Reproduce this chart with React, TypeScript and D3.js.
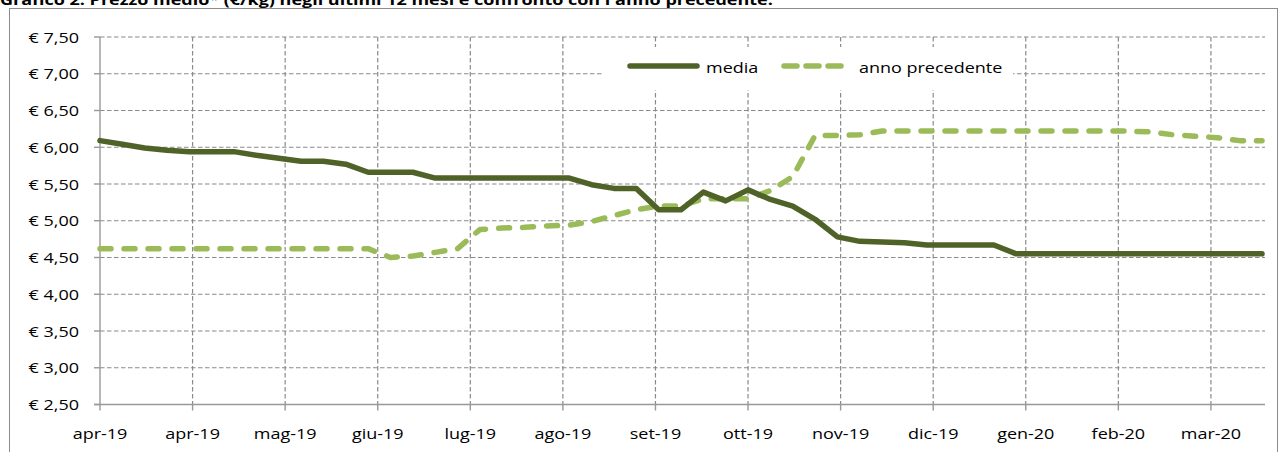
import React from "react";
import * as d3 from "d3";

// weekly prices, first week = 1 apr 2019
const startDate = new Date(2019, 3, 1);

const mediaValues = [
  6.09, 6.04, 5.99, 5.96, 5.94, 5.94, 5.94, 5.89, 5.85, 5.81, 5.81, 5.77, 5.66,
  5.66, 5.66, 5.58, 5.58, 5.58, 5.58, 5.58, 5.58, 5.58, 5.49, 5.44, 5.44, 5.15,
  5.15, 5.39, 5.27, 5.42, 5.29, 5.2, 5.02, 4.78, 4.72, 4.71, 4.7, 4.67, 4.67,
  4.67, 4.67, 4.55, 4.55, 4.55, 4.55, 4.55, 4.55, 4.55, 4.55, 4.55, 4.55, 4.55,
  4.55,
];

const annoPrecValues = [
  4.62, 4.62, 4.62, 4.62, 4.62, 4.62, 4.62, 4.62, 4.62, 4.62, 4.62, 4.62, 4.62,
  4.5, 4.52, 4.57, 4.62, 4.88, 4.9, 4.91, 4.93, 4.94, 4.99, 5.07, 5.15, 5.2,
  5.2, 5.3, 5.3, 5.3, 5.41, 5.6, 6.16, 6.16, 6.17, 6.22, 6.22, 6.22, 6.22, 6.22,
  6.22, 6.22, 6.22, 6.22, 6.22, 6.22, 6.22, 6.21, 6.17, 6.15, 6.13, 6.09,
  6.09,
];

const tickLabels = [
  "apr-19", "apr-19", "mag-19", "giu-19", "lug-19", "ago-19", "set-19",
  "ott-19", "nov-19", "dic-19", "gen-20", "feb-20", "mar-20",
];

const yTicks = [2.5, 3, 3.5, 4, 4.5, 5, 5.5, 6, 6.5, 7, 7.5];

const seriesNames = ["media", "anno precedente"];

const DARK = "#4f6228";
const LIGHT = "#9bbb59";
const GRID = "#8a8a8a";
const FONT = "'Open Sans', sans-serif";
const SX = 1.2; // text in the original is set wider than the font

function WideText({ x, y, anchor = "start", size = 15, weight = "normal", children }: any) {
  return (
    <text
      transform={`translate(${x},${y}) scale(${SX},1)`}
      textAnchor={anchor}
      fontFamily={FONT}
      fontSize={size}
      fontWeight={weight}
      fill="#000"
    >
      {children}
    </text>
  );
}

export default function App() {
  const width = 1282;
  const height = 452;
  const left = 100;
  const right = 1265;
  const top = 37;
  const bottom = 404.5;

  const dates = mediaValues.map((_, i) => d3.timeDay.offset(startDate, 7 * i));

  const x = d3
    .scaleTime()
    .domain([dates[0], dates[dates.length - 1]])
    .range([left, 1262]);

  const y = d3.scaleLinear().domain([2.5, 7.5]).range([bottom, top]);

  // axis ticks every 29 days
  const tickDates = tickLabels.map((_, i) => d3.timeDay.offset(startDate, 29 * i));

  const line = d3
    .line<number>()
    .x((_, i) => x(dates[i]))
    .y((d) => y(d));

  const fmt = (v: number) => "€ " + v.toFixed(2).replace(".", ",");

  return (
    <svg
      width={width}
      height={height}
      style={{ position: "absolute", left: 0, top: 0, background: "#fff" }}
    >
      <rect x={0} y={0} width={width} height={height} fill="#fff" />
      <WideText x={0} y={4.5} weight="bold" size={15}>
        Grafico 2. Prezzo medio* (€/kg) negli ultimi 12 mesi e confronto con l'anno precedente.
      </WideText>
      <rect x={9.5} y={8.5} width={1268} height={470} fill="#fff" stroke="#8c8c8c" strokeWidth={1} />

      {/* horizontal grid */}
      {yTicks.slice(1).map((t) => (
        <line
          key={"h" + t}
          x1={left}
          x2={right}
          y1={y(t)}
          y2={y(t)}
          stroke={GRID}
          strokeWidth={1.2}
          strokeDasharray="4.5,2.5"
        />
      ))}
      {/* vertical grid */}
      {tickDates.slice(1).map((d, i) => (
        <line
          key={"v" + i}
          x1={x(d)}
          x2={x(d)}
          y1={top}
          y2={bottom}
          stroke={GRID}
          strokeWidth={1.2}
          strokeDasharray="4.5,2.5"
        />
      ))}

      {/* axes */}
      <line x1={left} x2={left} y1={top} y2={bottom} stroke="#999" strokeWidth={1.4} />
      <line x1={left - 6} x2={right} y1={bottom} y2={bottom} stroke="#999" strokeWidth={1.4} />
      {yTicks.map((t) => (
        <g key={"yt" + t}>
          <line x1={left - 6} x2={left} y1={y(t)} y2={y(t)} stroke="#999" strokeWidth={1.4} />
          <WideText x={79} y={y(t) + 5.5} anchor="end">
            {fmt(t)}
          </WideText>
        </g>
      ))}
      {tickDates.map((d, i) => (
        <g key={"xt" + i}>
          <line x1={x(d)} x2={x(d)} y1={bottom} y2={bottom + 6} stroke="#999" strokeWidth={1.4} />
          <WideText x={x(d)} y={439} anchor="middle">
            {tickLabels[i]}
          </WideText>
        </g>
      ))}

      {/* series */}
      <path
        d={line(annoPrecValues) || ""}
        fill="none"
        stroke={LIGHT}
        strokeWidth={5.5}
        strokeDasharray="11,13"
        strokeLinecap="round"
        strokeLinejoin="round"
      />
      <path
        d={line(mediaValues) || ""}
        fill="none"
        stroke={DARK}
        strokeWidth={5.5}
        strokeLinecap="round"
        strokeLinejoin="round"
      />

      {/* legend */}
      <rect x={604} y={47} width={409} height={43} fill="#fff" />
      <line x1={630} x2={697} y1={66} y2={66} stroke={DARK} strokeWidth={5.5} strokeLinecap="round" />
      <WideText x={706} y={73}>
        {seriesNames[0]}
      </WideText>
      <line
        x1={784}
        x2={846}
        y1={66}
        y2={66}
        stroke={LIGHT}
        strokeWidth={5.5}
        strokeDasharray="13,9"
        strokeLinecap="round"
      />
      <WideText x={859} y={73}>
        {seriesNames[1]}
      </WideText>
    </svg>
  );
}
